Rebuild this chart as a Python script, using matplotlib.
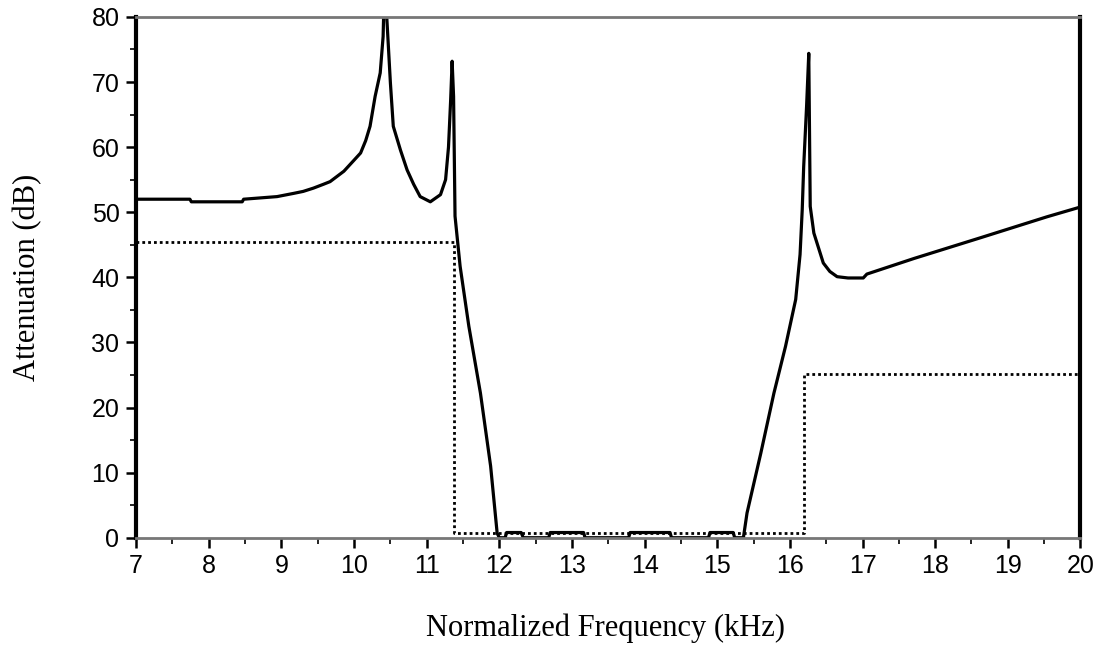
import numpy as np
import matplotlib.pyplot as plt
from matplotlib.ticker import MultipleLocator

# measured filter response (kHz, dB)
freq = [7.0, 7.74, 7.76, 8.46, 8.48, 8.94, 9.17, 9.30, 9.44, 9.58, 9.67, 9.86,
        10.0, 10.09, 10.16, 10.22, 10.29, 10.36, 10.40, 10.42, 10.45, 10.50,
        10.54, 10.64, 10.73, 10.82, 10.91, 11.05, 11.19, 11.26, 11.30, 11.33,
        11.35, 11.37, 11.39, 11.46, 11.58, 11.74, 11.88, 11.97, 12.0, 12.08,
        12.1, 12.3, 12.33, 12.68, 12.7, 13.16, 13.18, 13.78, 13.8, 14.35, 14.37,
        14.88, 14.9, 15.22, 15.24, 15.36, 15.41, 15.60, 15.78, 15.94, 16.08,
        16.14, 16.17, 16.19, 16.23, 16.26, 16.28, 16.33, 16.46, 16.55, 16.65,
        16.80, 17.01, 17.06, 17.71, 18.63, 19.54, 20.0]
atten = [52.0, 52.0, 51.6, 51.6, 52.0, 52.4, 52.9, 53.2, 53.7, 54.3, 54.7, 56.3,
         58.0, 59.1, 61.0, 63.2, 67.8, 71.4, 77.0, 86.0, 80.0, 69.9,
         63.2, 59.5, 56.5, 54.3, 52.4, 51.6, 52.7, 55.0, 60.0, 67.3,
         73.2, 67.8, 49.4, 41.7, 32.5, 22.2, 11.0, 0.7, 0.0, 0.0,
         0.8, 0.8, 0.0, 0.0, 0.8, 0.8, 0.0, 0.0, 0.8, 0.8, 0.0,
         0.0, 0.8, 0.8, 0.0, 0.0, 3.8, 13.0, 22.2, 29.4, 36.6,
         43.5, 50.4, 57.0, 66.3, 74.4, 50.9, 46.8, 42.2, 40.9, 40.1,
         39.9, 39.9, 40.5, 42.9, 46.1, 49.3, 50.8]

# specification mask
spec_freq = [7.0, 11.37, 11.37, 16.19, 16.19, 20.0]
spec_atten = [45.5, 45.5, 0.8, 0.8, 25.2, 25.2]

fig = plt.figure(figsize=(10.98, 6.51), dpi=100)
ax = fig.add_axes([0.124, 0.174, 0.860, 0.800])

ax.plot(freq, atten, color='black', linewidth=2.3, solid_joinstyle='round')
ax.plot(spec_freq, spec_atten, color='black', linewidth=2.0, linestyle=(0, (1, 1.1)))

ax.set_xlim(7, 20)
ax.set_ylim(0, 80)
ax.set_xticks(np.arange(7, 21, 1))
ax.set_yticks(np.arange(0, 81, 10))
ax.xaxis.set_minor_locator(MultipleLocator(0.5))
ax.yaxis.set_minor_locator(MultipleLocator(5))

tick_font = dict(family='Liberation Sans', size=18)
ax.set_xticklabels([str(v) for v in range(7, 21)], **tick_font)
ax.set_yticklabels([str(v) for v in range(0, 81, 10)], **tick_font)
ax.tick_params(which='major', direction='out', length=7, width=1.8, pad=5)
ax.tick_params(which='minor', direction='out', length=4, width=1.2)

for side in ['left', 'right']:
    ax.spines[side].set_linewidth(3)
    ax.spines[side].set_color('black')
for side in ['top', 'bottom']:
    ax.spines[side].set_linewidth(2)
    ax.spines[side].set_color('#777777')

label_font = dict(family='Liberation Serif', size=22)
ax.set_xlabel('Normalized Frequency (kHz)', **label_font)
ax.set_ylabel('Attenuation (dB)', **label_font)
ax.xaxis.set_label_coords(0.497, -0.145)
ax.yaxis.set_label_coords(-0.099, 0.5)

fig.savefig('out.png', dpi=100)
